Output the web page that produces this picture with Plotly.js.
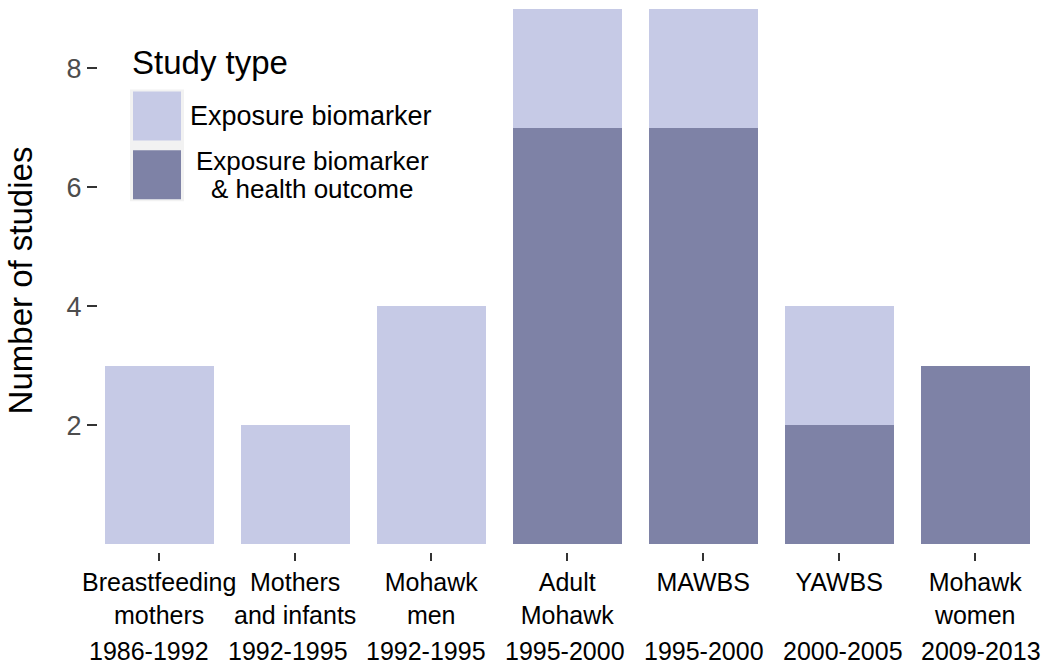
<!DOCTYPE html>
<html>
<head>
<meta charset="utf-8">
<script src="https://cdn.plot.ly/plotly-3.0.1.min.js"></script>
<style>html,body{margin:0;padding:0;background:#fff}#chart{width:1050px;height:670px}</style>
</head>
<body>
<div id="chart"></div>
<script>
// ---- data ----
const studyIds = ["BFM", "MI", "MM", "AM", "MAWBS", "YAWBS", "MW"];
const studyLabels = ["Breastfeeding<br>mothers", "Mothers<br>and infants", "Mohawk<br>men", "Adult<br>Mohawk", "MAWBS", "YAWBS", "Mohawk<br>women"];
const studyYears = ["1986-1992", "1992-1995", "1992-1995", "1995-2000", "1995-2000", "2000-2005", "2009-2013"];
const biomarkerHealth = [0, 0, 0, 7, 7, 2, 3];
const biomarkerOnly = [3, 2, 4, 2, 2, 2, 0];
const seriesNames = ["Exposure biomarker", "Exposure biomarker & health outcome"];
const yTicks = [2, 4, 6, 8];

// ---- styles ----
const LIGHT = "rgb(198,202,230)";
const DARK = "rgb(126,130,166)";
const FONT = "Liberation Sans, Arial, sans-serif";
const W = 1050, H = 670;
const M = {l: 98, r: 0, t: 8.5, b: 118};
const PW = W - M.l - M.r, PH = H - M.t - M.b;
const px = x => (x - M.l) / PW;
const py = y => 1 - (y - M.t) / PH;

const traces = [
  {type: "bar", x: studyIds, y: biomarkerHealth, name: seriesNames[1],
   marker: {color: DARK, line: {width: 0}}, showlegend: false, hoverinfo: "x+y"},
  {type: "bar", x: studyIds, y: biomarkerOnly, name: seriesNames[0],
   marker: {color: LIGHT, line: {width: 0}}, showlegend: false, hoverinfo: "x+y"}
];

// period labels sit on their own (slightly wider-spaced) row scale
const annotations = studyYears.map((yr, i) => ({
  x: i, xref: "x2", y: 0, yref: "paper", yanchor: "top", yshift: -83,
  text: yr, showarrow: false,
  font: {family: FONT, size: 25, color: "#000"}
}));

// legend (manual, ggplot-like large keys)
annotations.push(
  {xref: "paper", yref: "paper", x: px(130), y: py(62), xanchor: "left", yanchor: "middle",
   text: "Study type", showarrow: false, font: {family: FONT, size: 33, color: "#000"}},
  {xref: "paper", yref: "paper", x: px(188), y: py(116), xanchor: "left", yanchor: "middle",
   text: seriesNames[0], showarrow: false, font: {family: FONT, size: 27, color: "#000"}},
  {xref: "paper", yref: "paper", x: px(312), y: py(161), xanchor: "center", yanchor: "middle",
   text: "Exposure biomarker", showarrow: false, font: {family: FONT, size: 26, color: "#000"}},
  {xref: "paper", yref: "paper", x: px(312), y: py(189), xanchor: "center", yanchor: "middle",
   text: "& health outcome", showarrow: false, font: {family: FONT, size: 26, color: "#000"}}
);

const shapes = [
  {type: "rect", xref: "paper", yref: "paper", x0: px(130), x1: px(184), y0: py(89), y1: py(201),
   fillcolor: "#f2f2f2", line: {width: 0}, layer: "above"},
  {type: "rect", xref: "paper", yref: "paper", x0: px(133), x1: px(181), y0: py(91), y1: py(140),
   fillcolor: LIGHT, line: {width: 0}, layer: "above"},
  {type: "rect", xref: "paper", yref: "paper", x0: px(133), x1: px(181), y0: py(150), y1: py(199),
   fillcolor: DARK, line: {width: 0}, layer: "above"}
];

const layout = {
  width: W, height: H,
  margin: M,
  paper_bgcolor: "#fff", plot_bgcolor: "#fff",
  barmode: "stack", bargap: 0.2,
  showlegend: false,
  font: {family: FONT, color: "#000"},
  xaxis: {
    type: "category", range: [-0.45, 6.55],
    tickvals: studyIds, ticktext: studyLabels, tickangle: 0,
    ticks: "outside", ticklen: 8, tickwidth: 2, tickcolor: "#333",
    showgrid: false, zeroline: false, showline: false,
    tickfont: {family: FONT, size: 25, color: "#000"},
    fixedrange: true, automargin: false
  },
  xaxis2: {
    overlaying: "x", range: [-0.368, 6.496], visible: false,
    showgrid: false, zeroline: false, fixedrange: true
  },
  yaxis: {
    range: [-0.135, 9], tickvals: yTicks,
    ticks: "outside", ticklen: 10, tickwidth: 2, tickcolor: "#333",
    showgrid: false, zeroline: false, showline: false,
    tickfont: {family: FONT, size: 27, color: "#4d4d4d"},
    title: {text: "Number of studies", font: {family: FONT, size: 33, color: "#000"}, standoff: 24},
    fixedrange: true, automargin: false
  },
  annotations: annotations,
  shapes: shapes
};

Plotly.newPlot("chart", traces, layout, {displayModeBar: false, staticPlot: true});
</script>
</body>
</html>
